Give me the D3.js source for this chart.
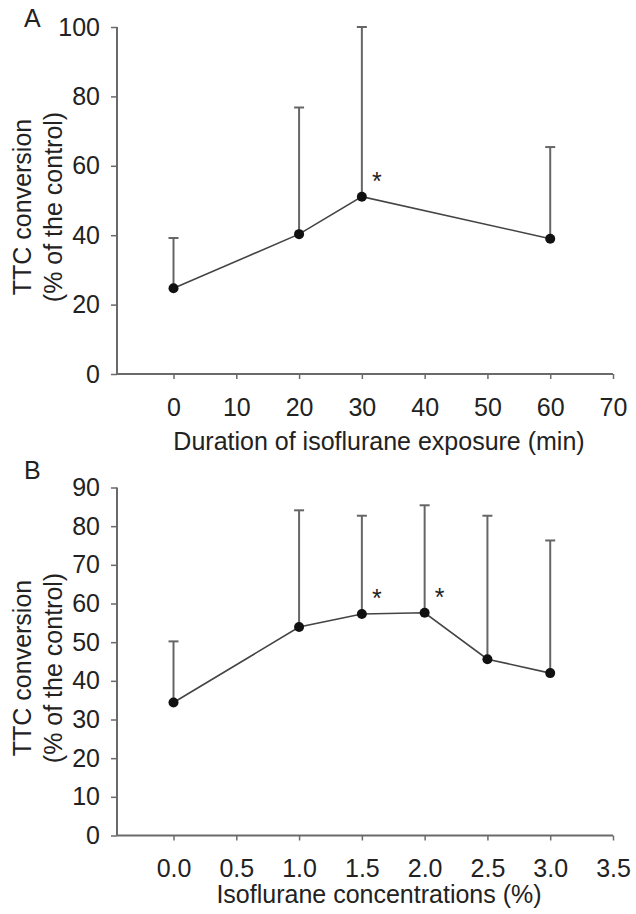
<!DOCTYPE html>
<html>
<head>
<meta charset="utf-8">
<script src="https://cdn.jsdelivr.net/npm/d3@7"></script>
<style>
  body { margin: 0; background: #fff; }
  text { font-family: "Liberation Sans", Arial, sans-serif; fill: #222; }
</style>
</head>
<body>
<div id="chart"></div>
<script>
// panel A: duration of exposure
var durationMin = [0, 20, 30, 60];
var durationMean = [24.7, 40.3, 51.1, 39.0];
var durationTop = [39.2, 76.8, 100, 65.4];
var durationStar = [false, false, true, false];
var durationTicksX = [0, 10, 20, 30, 40, 50, 60, 70];
var durationTicksY = [0, 20, 40, 60, 80, 100];

// panel B: concentration
var concPct = [0.0, 1.0, 1.5, 2.0, 2.5, 3.0];
var concMean = [34.4, 53.9, 57.3, 57.6, 45.6, 42.0];
var concTop = [50.2, 84.1, 82.7, 85.4, 82.7, 76.3];
var concStar = [false, false, true, true, false, false];
var concTicksX = [0.0, 0.5, 1.0, 1.5, 2.0, 2.5, 3.0, 3.5];
var concTicksY = [0, 10, 20, 30, 40, 50, 60, 70, 80, 90];

var svgWidth = 636;
var svgHeight = 914;

var svg = d3.select("#chart")
  .append("svg")
  .attr("width", svgWidth)
  .attr("height", svgHeight);

function drawPanel(opt) {
  var g = svg.append("g");

  var x = d3.scaleLinear().domain(opt.xDomain).range([117, 613]);
  var y = d3.scaleLinear().domain(opt.yDomain).range([opt.bottom, opt.top]);

  // axes
  var xAxis = d3.axisBottom(x)
    .tickValues(opt.ticksX)
    .tickSize(5)
    .tickFormat(opt.fmtX);
  var yAxis = d3.axisLeft(y)
    .tickValues(opt.ticksY)
    .tickSize(6)
    .tickFormat(d3.format("d"));

  var gx = g.append("g")
    .attr("transform", `translate(0, ${opt.bottom})`)
    .call(xAxis);
  var gy = g.append("g")
    .attr("transform", "translate(117, 0)")
    .call(yAxis);

  [gx, gy].forEach(function(a) {
    a.select(".domain").attr("stroke", "#6a6a6a").attr("stroke-width", 2);
    a.selectAll(".tick line").attr("stroke", "#6a6a6a").attr("stroke-width", 1.5);
    a.selectAll(".tick text")
      .attr("font-size", "25px")
      .attr("font-family", "Liberation Sans, Arial, sans-serif")
      .attr("fill", "#222");
  });
  gx.select(".domain").attr("d", `M117,0H613`);
  gy.select(".domain").attr("d", `M0,${opt.bottom}V${opt.top}`);
  gx.selectAll(".tick text").attr("dy", "1.35em");
  gy.selectAll(".tick text").attr("x", -17);

  var pts = opt.xs.map(function(v, i) {
    return { x: v, m: opt.mean[i], t: opt.topv[i], s: opt.star[i] };
  });

  // error bars (upper only)
  g.selectAll(".err")
    .data(pts)
    .enter()
    .append("line")
    .attr("x1", d => x(d.x))
    .attr("x2", d => x(d.x))
    .attr("y1", d => y(d.m))
    .attr("y2", d => y(d.t))
    .attr("stroke", "#666")
    .attr("stroke-width", 2);

  g.selectAll(".cap")
    .data(pts)
    .enter()
    .append("line")
    .attr("x1", d => x(d.x) - 5)
    .attr("x2", d => x(d.x) + 5)
    .attr("y1", d => y(d.t))
    .attr("y2", d => y(d.t))
    .attr("stroke", "#666")
    .attr("stroke-width", 2);

  var line = d3.line()
    .x(d => x(d.x))
    .y(d => y(d.m));

  g.append("path")
    .datum(pts)
    .attr("d", line)
    .attr("fill", "none")
    .attr("stroke", "#444")
    .attr("stroke-width", 1.6);

  g.selectAll("circle")
    .data(pts)
    .enter()
    .append("circle")
    .attr("cx", d => x(d.x))
    .attr("cy", d => y(d.m))
    .attr("r", 5)
    .attr("fill", "#111");

  g.selectAll(".star")
    .data(pts.filter(d => d.s))
    .enter()
    .append("text")
    .attr("x", d => x(d.x) + 15)
    .attr("y", d => y(d.m) - 7)
    .attr("text-anchor", "middle")
    .attr("font-size", "25px")
    .text("*");

  // titles
  g.append("text")
    .attr("x", 379)
    .attr("y", opt.titleY)
    .attr("text-anchor", "middle")
    .attr("font-size", "25px")
    .text(opt.xTitle);

  var yt = g.append("text")
    .attr("transform", `translate(0, ${opt.yTitleMid}) rotate(-90)`)
    .attr("text-anchor", "middle")
    .attr("font-size", "25px");
  yt.append("tspan").attr("x", 0).attr("y", 31).text("TTC conversion");
  yt.append("tspan").attr("x", 0).attr("y", 62).text("(% of the control)");

  g.append("text")
    .attr("x", 24)
    .attr("y", opt.letterY)
    .attr("font-size", "25px")
    .text(opt.letter);
}

drawPanel({
  letter: "A", letterY: 27,
  xDomain: [-9, 70], yDomain: [0, 100],
  top: 27, bottom: 374,
  ticksX: durationTicksX, ticksY: durationTicksY,
  fmtX: d3.format("d"),
  xs: durationMin, mean: durationMean, topv: durationTop, star: durationStar,
  xTitle: "Duration of isoflurane exposure (min)", titleY: 450,
  yTitleMid: 207
});

drawPanel({
  letter: "B", letterY: 479,
  xDomain: [-0.45, 3.5], yDomain: [0, 90],
  top: 487.5, bottom: 835.5,
  ticksX: concTicksX, ticksY: concTicksY,
  fmtX: d3.format(".1f"),
  xs: concPct, mean: concMean, topv: concTop, star: concStar,
  xTitle: "Isoflurane concentrations (%)", titleY: 903,
  yTitleMid: 668
});
</script>
</body>
</html>
